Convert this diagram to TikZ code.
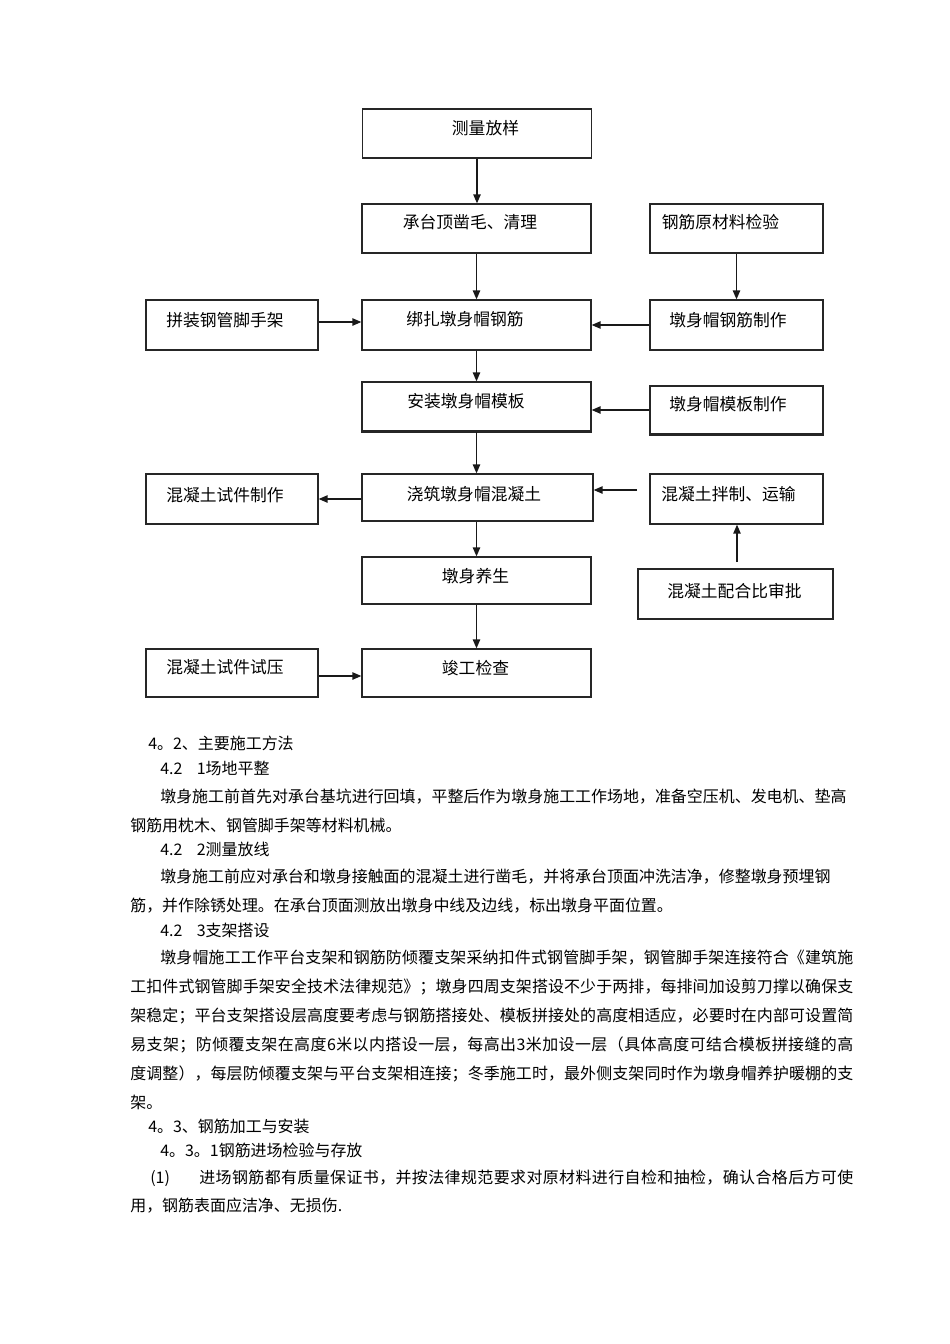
\documentclass[tikz,border=0pt]{standalone}
\usepackage{fontspec}
\setmainfont{Noto Sans CJK SC}
\usetikzlibrary{arrows.meta}
\newdimen\px \px=0.62661pt
\makeatletter
\def\spr@end{\spr@endx}
\def\spr#1{\spr@a#1\spr@end}
\def\spr@a#1#2\spr@end{#1\ifx\spr@end#2\spr@end\else\hskip 0pt plus 1fil\relax\spr@a#2\spr@end\fi}
\makeatother
\newcommand\jl[2]{\hbox to #1\px{\spr{#2}}}
\begin{document}
\begin{tikzpicture}[x=0.62661pt,y=-0.62661pt,
  box/.style={draw=black!85, line width=0.8pt, inner sep=0pt, minimum height=49\px},
  wbox/.style={box, minimum width=229\px},
  sbox/.style={box, minimum width=173\px},
  blab/.style={font=\fontsize{10.5pt}{12pt}\selectfont, inner sep=0pt, text height=9pt, text depth=1.3pt},
  btxt/.style={font=\fontsize{10pt}{12pt}\selectfont, inner sep=0pt, anchor=west, text height=8.6pt, text depth=1.2pt},
  arr/.style={line width=0.8pt, draw=black!90, -{Triangle[length=5.6pt,width=4.6pt]}}]
\useasboundingbox (0,0) rectangle (950,1344);
% boxes
\node[wbox] (A) at (477,133.5) {};
\node[wbox] (B) at (476.5,228.5) {};
\node[sbox] (C) at (736.5,228.5) {};
\node[sbox, minimum width=172\px, minimum height=50\px] (D) at (232,325) {};
\node[wbox, minimum height=50\px] (E) at (476.5,325) {};
\node[sbox, minimum height=50\px] (F) at (736.5,325) {};
\node[wbox] (G) at (476.5,406.5) {};
\node[sbox, minimum height=48\px] (H) at (736.5,410) {};
\node[sbox, minimum width=172\px, minimum height=50\px] (I) at (232,499) {};
\node[wbox, minimum width=231\px, minimum height=47\px] (J) at (477.5,497.5) {};
\node[sbox, minimum height=50\px] (K) at (736.5,499) {};
\node[wbox, minimum height=47\px] (L) at (476.5,580.5) {};
\node[box, minimum width=195\px, minimum height=50\px] (M) at (735.5,594) {};
\node[sbox, minimum width=172\px, minimum height=48\px] (N) at (232,673) {};
\node[wbox, minimum height=48\px] (O) at (476.5,673) {};
\draw[line width=1.3pt, black!85] (G.south west) -- (G.south east);
\draw[line width=1.3pt, black!85] (H.south west) -- (H.south east);
% box texts
\node[blab] (tA) at (485.5,128) {测量放样};
\node[blab] (tB) at (470,222) {承台顶凿毛、清理};
\node[blab] (tC) at (720.5,222) {钢筋原材料检验};
\node[blab] (tD) at (225,320) {拼装钢管脚手架};
\node[blab] (tE) at (465,319) {绑扎墩身帽钢筋};
\node[blab] (tF) at (728,320) {墩身帽钢筋制作};
\node[blab] (tG) at (466,401) {安装墩身帽模板};
\node[blab] (tH) at (728,404.5) {墩身帽模板制作};
\node[blab] (tI) at (225,495) {混凝土试件制作};
\node[blab] (tJ) at (474,494) {浇筑墩身帽混凝土};
\node[blab] (tK) at (728.5,494) {混凝土拌制、运输};
\node[blab] (tL) at (475.5,576) {墩身养生};
\node[blab] (tM) at (734.5,591) {混凝土配合比审批};
\node[blab] (tN) at (225,667) {混凝土试件试压};
\node[blab] (tO) at (475.5,668) {竣工检查};
% connectors
\coordinate (kstart) at (637,490);
\coordinate (mstart) at (737,562);
\draw[arr] (A.south) -- (A.south |- B.north);
\draw[arr] (B.south) -- (B.south |- E.north);
\draw[arr] (C.south) -- (C.south |- F.north);
\draw[arr] ([yshift=3\px]D.east) -- ([yshift=3\px]D.east -| E.west);
\draw[arr] (F.west) -- (F.west -| E.east);
\draw[arr] (E.south) -- (E.south |- G.north);
\draw[arr] (H.west) -- (H.west -| G.east);
\draw[arr] (G.south) -- (G.south |- J.north);
\draw[arr] (I.east -| J.west) -- (I.east);
\draw[arr] (kstart) -- (kstart -| J.east);
\draw[arr] (J.south -| G.south) -- (G.south |- L.north);
\draw[arr] (mstart) -- (mstart |- K.south);
\draw[arr] (L.south) -- (L.south |- O.north);
\draw[arr] ([yshift=-3\px]N.east) -- ([yshift=-3\px]N.east -| O.west);
% body text
\node[btxt] (p1) at (148,744) {4。2、主要施工方法};
\node[btxt] (p2) at (160,769) {4.2\hspace{0.9em}1场地平整};
\node[btxt] (p3) at (160,797) {\jl{683}{墩身施工前首先对承台基坑进行回填，平整后作为墩身施工工作场地，准备空压机、发电机、垫高}};
\node[btxt] (p4) at (130,826) {钢筋用枕木、钢管脚手架等材料机械。};
\node[btxt] (p5) at (160,850) {4.2\hspace{0.9em}2测量放线};
\node[btxt] (p6) at (160,877) {\jl{666}{墩身施工前应对承台和墩身接触面的混凝土进行凿毛，并将承台顶面冲洗洁净，修整墩身预埋钢}};
\node[btxt] (p7) at (130,906) {筋，并作除锈处理。在承台顶面测放出墩身中线及边线，标出墩身平面位置。};
\node[btxt] (p8) at (160,931) {4.2\hspace{0.9em}3支架搭设};
\node[btxt] (p9) at (160,958) {\jl{693}{墩身帽施工工作平台支架和钢筋防倾覆支架采纳扣件式钢管脚手架，钢管脚手架连接符合《建筑施}};
\node[btxt] (p10) at (130,987) {\jl{723}{工扣件式钢管脚手架安全技术法律规范》；墩身四周支架搭设不少于两排，每排间加设剪刀撑以确保支}};
\node[btxt] (p11) at (130,1016) {\jl{723}{架稳定；平台支架搭设层高度要考虑与钢筋搭接处、模板拼接处的高度相适应，必要时在内部可设置简}};
\node[btxt] (p12) at (130,1045) {\jl{723}{易支架；防倾覆支架在高度6米以内搭设一层，每高出3米加设一层（具体高度可结合模板拼接缝的高}};
\node[btxt] (p13) at (130,1074) {\jl{723}{度调整），每层防倾覆支架与平台支架相连接；冬季施工时，最外侧支架同时作为墩身帽养护暖棚的支}};
\node[btxt] (p14) at (130,1103) {架。};
\node[btxt] (p15) at (148,1127) {4。3、钢筋加工与安装};
\node[btxt] (p16) at (160,1151) {4。3。1钢筋进场检验与存放};
\node[btxt] (p17a) at (150,1178) {(1)};
\node[btxt] (p17) at (199,1178) {\jl{654}{进场钢筋都有质量保证书，并按法律规范要求对原材料进行自检和抽检，确认合格后方可使}};
\node[btxt] (p18) at (130,1206) {用，钢筋表面应洁净、无损伤.};
\end{tikzpicture}
\end{document}
